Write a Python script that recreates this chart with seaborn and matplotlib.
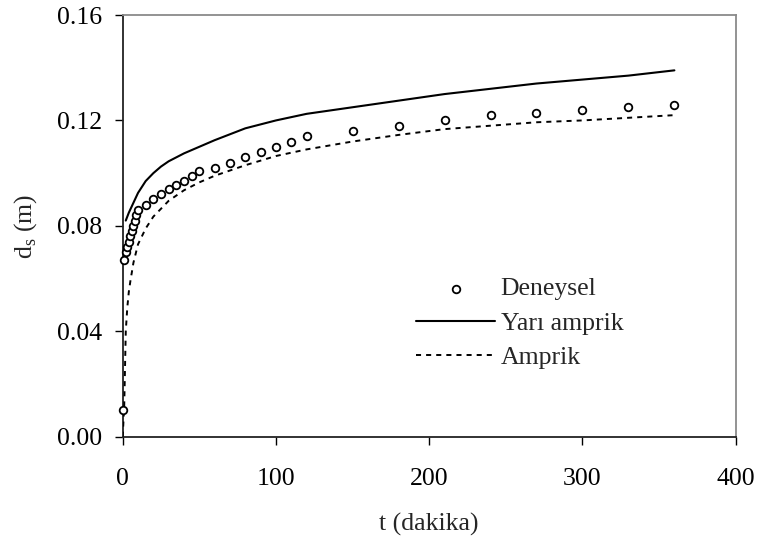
import matplotlib
matplotlib.use('Agg')

import seaborn as sns
import matplotlib.pyplot as plt
import pandas as pd

# --- Deneysel ölçümler ---
t_deney = [0, 1, 2, 3, 4, 5, 6, 7, 8, 9, 10, 15, 20, 25, 30, 35, 40, 45, 50,
           60, 70, 80, 90, 100, 110, 120, 150, 180, 210, 240, 270, 300, 330, 360]
ds_deney = [0.010, 0.067, 0.070, 0.072, 0.074, 0.076, 0.078, 0.080, 0.082, 0.084,
            0.086, 0.088, 0.090, 0.092, 0.094, 0.0955, 0.097, 0.099, 0.101,
            0.102, 0.104, 0.106, 0.108, 0.110, 0.112, 0.114, 0.116, 0.118,
            0.120, 0.122, 0.123, 0.124, 0.125, 0.126]

# --- Yarı amprik model ---
t_yari = [2, 4, 6, 10, 15, 20, 25, 30, 40, 50, 60, 80, 100, 120, 150, 180,
          210, 240, 270, 300, 330, 360]
ds_yari = [0.082, 0.085, 0.0875, 0.0925, 0.097, 0.100, 0.1025, 0.1045, 0.1075,
           0.110, 0.1125, 0.117, 0.120, 0.1225, 0.125, 0.1275, 0.130, 0.132,
           0.134, 0.1355, 0.137, 0.139]

# --- Amprik model ---
t_amp = [0, 1, 2, 3, 4, 5, 7, 10, 15, 20, 30, 40, 50, 60, 80, 100, 120, 150,
         180, 210, 240, 270, 300, 330, 360]
ds_amp = [0.000, 0.012, 0.040, 0.049, 0.055, 0.059, 0.066, 0.073, 0.079,
          0.0835, 0.0895, 0.0935, 0.0965, 0.099, 0.103, 0.1065, 0.109, 0.112,
          0.1145, 0.1167, 0.118, 0.1193, 0.120, 0.121, 0.122]

x_ticks = [0, 100, 200, 300, 400]
y_ticks = [0.00, 0.04, 0.08, 0.12, 0.16]

sns.set_style('ticks')
plt.rcParams['font.family'] = ['Liberation Serif', 'DejaVu Serif']
plt.rcParams['mathtext.fontset'] = 'custom'
plt.rcParams['mathtext.rm'] = 'Liberation Serif'
fs = 18.5

fig = plt.figure(figsize=(7.58, 5.43), dpi=100)
ax = fig.add_axes([122.7 / 758, 1 - 436.7 / 543, 613 / 758, 421.7 / 543])

df_deney = pd.DataFrame({'t': t_deney, 'ds': ds_deney})
df_yari = pd.DataFrame({'t': t_yari, 'ds': ds_yari})
df_amp = pd.DataFrame({'t': t_amp, 'ds': ds_amp})

sns.scatterplot(data=df_deney, x='t', y='ds', ax=ax, marker='o', s=30,
                facecolor='white', edgecolor='black', linewidth=1.3,
                label='Deneysel', zorder=4, clip_on=False)
sns.lineplot(data=df_yari, x='t', y='ds', ax=ax, color='black', linewidth=1.5,
             label='Yarı amprik', zorder=3)
sns.lineplot(data=df_amp, x='t', y='ds', ax=ax, color='black', linewidth=1.4,
             label='Amprik', zorder=3)
ax.lines[-1].set_dashes((2.6, 2.6))

ax.set_xlim(0, 400)
ax.set_ylim(0, 0.16)
ax.set_xticks(x_ticks)
ax.set_yticks(y_ticks)
ax.set_xticklabels([str(v) for v in x_ticks])
ax.set_yticklabels([f"{v:.2f}" for v in y_ticks])
ax.tick_params(direction='out', length=6, width=1, colors='black', labelsize=fs)
ax.tick_params(axis='y', pad=9)
ax.tick_params(axis='x', pad=16.5)

ax.set_xlabel('t (dakika)', fontsize=fs)
ax.set_ylabel(r'd$_\mathregular{s}$ (m)', fontsize=fs)
ax.xaxis.set_label_coords(0.5, -0.209)
ax.xaxis.label.set_va('center')
ax.yaxis.set_label_coords(-0.159, 0.5)
ax.yaxis.label.set_va('center')

for side in ['left', 'bottom']:
    ax.spines[side].set_color('#222222')
    ax.spines[side].set_linewidth(1.3)
for side in ['top', 'right']:
    ax.spines[side].set_visible(True)
    ax.spines[side].set_color('#8a8a8a')
    ax.spines[side].set_linewidth(1.3)

leg = ax.legend(loc='upper left', bbox_to_anchor=(0.478, 0.378), frameon=False,
                borderpad=0, borderaxespad=0, handlelength=3.1, handletextpad=0.2,
                labelspacing=0.45, fontsize=fs)

plt.savefig('out.png', dpi=100)
plt.close()
